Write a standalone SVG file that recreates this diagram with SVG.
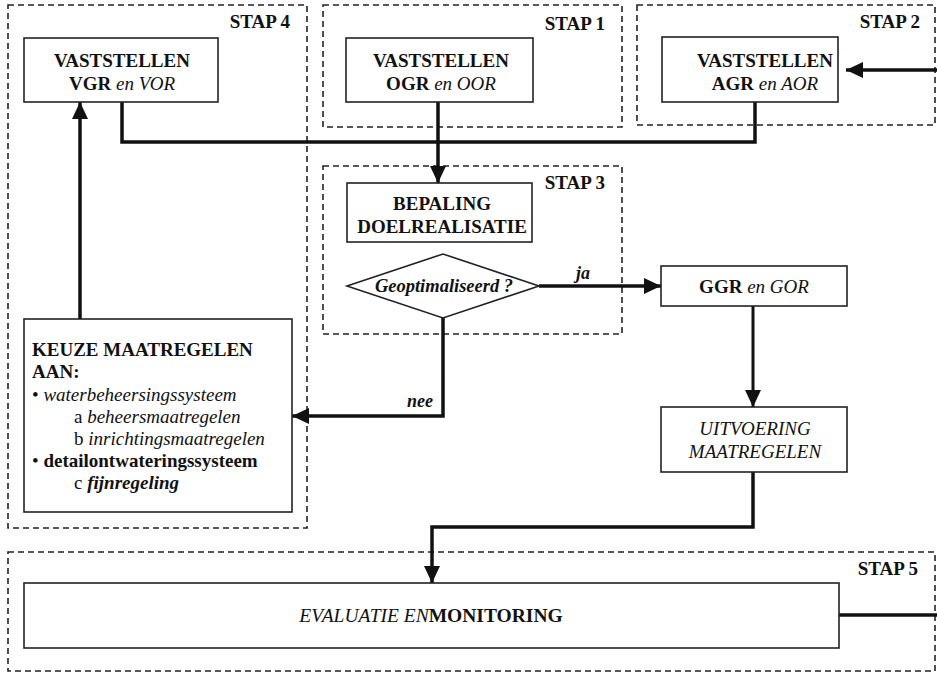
<svg xmlns="http://www.w3.org/2000/svg" width="937" height="674" viewBox="0 0 937 674">
<style>
text{font-family:"Liberation Serif","Times New Roman",serif;fill:#111;}
.stap{fill:none;stroke:#222;stroke-width:1.6;stroke-dasharray:6 4;}
.box{fill:#fff;stroke:#222;stroke-width:1.6;}
.lbl{font-size:19px;font-weight:bold;text-anchor:end;}
.t{font-size:19px;font-weight:bold;text-anchor:middle;}
.i{font-style:italic;font-weight:normal;}
.k{font-size:19px;}
.con{fill:none;stroke:#111;stroke-width:3.5;}
</style>
<defs>
<marker id="ah" markerUnits="userSpaceOnUse" markerWidth="18" markerHeight="16" refX="17" refY="8" orient="auto">
<path d="M0,0 L17,8 L0,16 Z" fill="#111"/>
</marker>
</defs>

<g id="stap4">
<rect class="stap" x="8" y="5" width="299" height="523"/>
<text class="lbl" x="290" y="28">STAP 4</text>
</g>
<g id="stap1">
<rect class="stap" x="323" y="5" width="299" height="122"/>
<text class="lbl" x="605" y="30">STAP 1</text>
</g>
<g id="stap2">
<rect class="stap" x="637" y="5" width="298" height="120"/>
<text class="lbl" x="920" y="28">STAP 2</text>
</g>
<g id="stap3">
<rect class="stap" x="323" y="166" width="299" height="168"/>
<text class="lbl" x="605" y="189">STAP 3</text>
</g>
<g id="stap5">
<rect class="stap" x="8" y="552" width="927" height="119"/>
<text class="lbl" x="918" y="575">STAP 5</text>
</g>

<g id="connectors">
<polyline class="con" points="122,102 122,142 755,142 755,102"/>
<line class="con" x1="438" y1="102" x2="438" y2="183" marker-end="url(#ah)"/>
<line class="con" x1="937" y1="70" x2="846" y2="70" marker-end="url(#ah)"/>
<line class="con" x1="539" y1="286" x2="661" y2="286" marker-end="url(#ah)"/>
<polyline class="con" points="443,318 443,416 292,416" marker-end="url(#ah)"/>
<line class="con" x1="80" y1="319" x2="80" y2="102" marker-end="url(#ah)"/>
<line class="con" x1="753" y1="306" x2="753" y2="407" marker-end="url(#ah)" style="stroke-width:3"/>
<polyline class="con" points="753,472 753,527 432,527 432,583" marker-end="url(#ah)"/>
<line class="con" x1="839" y1="615" x2="937" y2="615"/>
<text x="583" y="279" style="font-size:18px;font-weight:bold;font-style:italic;text-anchor:middle">ja</text>
<text x="433" y="407" style="font-size:18px;font-weight:bold;font-style:italic;text-anchor:end">nee</text>
</g>

<g id="vgr">
<rect class="box" x="24" y="38" width="194" height="64"/>
<text class="t" x="122" y="67">VASTSTELLEN</text>
<text class="t" x="122" y="90">VGR <tspan class="i">en VOR</tspan></text>
</g>
<g id="ogr">
<rect class="box" x="346" y="38" width="187" height="64"/>
<text class="t" x="441" y="67">VASTSTELLEN</text>
<text class="t" x="441" y="90">OGR <tspan class="i">en OOR</tspan></text>
</g>
<g id="agr">
<rect class="box" x="662" y="37" width="176" height="65"/>
<text class="t" x="765" y="67">VASTSTELLEN</text>
<text class="t" x="765" y="90">AGR <tspan class="i">en AOR</tspan></text>
</g>
<g id="bepaling">
<rect class="box" x="347" y="183" width="185" height="59"/>
<text class="t" x="442" y="210">BEPALING</text>
<text class="t" x="442" y="233">DOELREALISATIE</text>
</g>
<g id="geoptimaliseerd">
<polygon class="box" points="347,286 443,254 539,286 443,318"/>
<text x="444" y="292" style="font-size:18.5px;font-weight:bold;font-style:italic;text-anchor:middle">Geoptimaliseerd ?</text>
</g>
<g id="ggr">
<rect class="box" x="661" y="266" width="186" height="40"/>
<text class="t" x="754" y="293">GGR <tspan class="i">en GOR</tspan></text>
</g>
<g id="uitvoering">
<rect class="box" x="661" y="407" width="186" height="65"/>
<text class="t i" x="755" y="435">UITVOERING</text>
<text class="t i" x="755" y="458">MAATREGELEN</text>
</g>
<g id="keuze">
<rect class="box" x="24" y="319" width="268" height="193"/>
<text class="k" x="32" y="356" font-weight="bold">KEUZE MAATREGELEN</text>
<text class="k" x="32" y="378" font-weight="bold">AAN:</text>
<text class="k" x="32" y="401">• <tspan font-style="italic">waterbeheersingssysteem</tspan></text>
<text class="k" x="74" y="423">a <tspan font-style="italic">beheersmaatregelen</tspan></text>
<text class="k" x="74" y="445">b <tspan font-style="italic">inrichtingsmaatregelen</tspan></text>
<text class="k" x="32" y="467"><tspan>• </tspan><tspan font-weight="bold">detailontwateringssysteem</tspan></text>
<text class="k" x="74" y="489">c <tspan font-weight="bold" font-style="italic">fijnregeling</tspan></text>
</g>
<g id="evaluatie">
<rect class="box" x="24" y="583" width="815" height="65"/>
<text x="431" y="622" style="font-size:19.5px;text-anchor:middle"><tspan font-style="italic">EVALUATIE EN</tspan><tspan font-weight="bold">MONITORING</tspan></text>
</g>
</svg>
